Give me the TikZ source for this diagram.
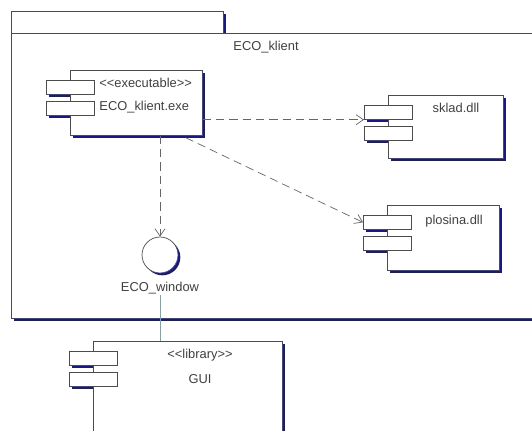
\documentclass[tikz,border=0pt]{standalone}
\usepackage{fontspec}
\setmainfont{Liberation Sans}
\usetikzlibrary{arrows.meta,shadows,calc}
\definecolor{umlnavy}{RGB}{25,25,130}
\definecolor{umlteal}{RGB}{120,165,175}

\tikzset{
  box/.style={draw=black!70, fill=white, line width=0.6pt, inner sep=0pt, anchor=north west},
  navyshadow/.style={drop shadow={shadow xshift=0.07cm, shadow yshift=-0.07cm, opacity=1, fill=umlnavy}},
  comp/.style={box, navyshadow},
  port/.style={box, minimum width=1.44cm, minimum height=0.42cm},
  lbl/.style={font=\fontsize{11}{12}\selectfont, text=black!75, inner sep=1pt},
  dep/.style={draw=black!60, line width=0.6pt, dash pattern=on 0.25cm off 0.15cm,
    -{Straight Barb[length=0.22cm, width=0.3cm]}}
}

\begin{document}
\begin{tikzpicture}[x=0.03cm, y=-0.03cm]
  \useasboundingbox (0,0) rectangle (532,431);
  \clip (0,0) rectangle (532,431);
  % package ECO_klient (right side runs off the picture)
  \node[box, navyshadow, minimum width=6.36cm, minimum height=0.66cm] (pkgtab) at (11,11) {};
  \node[box, navyshadow, minimum width=16.5cm, minimum height=8.55cm] (pkg) at (11,33) {};
  \node[lbl] (pkgname) at (266,47) {ECO\_klient};

  % components: main rectangles
  \node[comp, minimum width=3.96cm, minimum height=1.95cm] (exe) at (70,70) {};
  \node[comp, minimum width=3.45cm, minimum height=1.89cm] (sklad) at (388,95) {};
  \node[comp, minimum width=3.36cm, minimum height=1.95cm] (plosina) at (387,205) {};
  \node[comp, minimum width=5.67cm, minimum height=3.6cm] (gui) at (93,341) {};

  % the two small rectangles on each component
  \foreach \c in {exe,sklad,plosina,gui} {
    \node[port] (\c-a) at ([shift={(-24,10)}]\c.north west) {};
    \node[port] (\c-b) at ([shift={(-24,31)}]\c.north west) {};
    \draw[umlnavy, line width=0.07cm] ($(\c-a.south west)+(3,1.5)$) -- ($(\c-a.south west -| \c.west)+(0,1.5)$);
    \draw[umlnavy, line width=0.07cm] ($(\c-b.south west)+(3,1.5)$) -- ($(\c-b.south west -| \c.west)+(0,1.5)$);
  }

  % texts
  \node[lbl, anchor=west] (exest) at (98,83) {<\kern0pt<executable>\kern0pt>};
  \node[lbl, anchor=west] (exename) at (98,107) {ECO\_klient.exe};
  \node[lbl] (skladname) at (456,108) {sklad.dll};
  \node[lbl] (plosinaname) at (454,221) {plosina.dll};
  \node[lbl] (guist) at (200,355) {<\kern0pt<library>\kern0pt>};
  \node[lbl] (guiname) at (200,379) {GUI};

  % interface
  \node[draw=black!70, fill=white, line width=0.6pt, circle, minimum size=1.08cm, inner sep=0pt, navyshadow] (win) at (160,255) {};
  \node[lbl] (winlbl) at (160,288) {ECO\_window};

  % dependencies
  \draw[dep] (exe.south -| win) -- (win.north);
  \draw[dep] (exe.east |- sklad-a.south west) -- (sklad-a.south west);
  \draw[dep] ($(exe.south east)+(-17,2)$) -- (plosina-a.west);
  % realization link to GUI
  \draw[umlteal, line width=0.6pt] (winlbl.south) -- (winlbl.south |- gui.north);
\end{tikzpicture}
\end{document}
